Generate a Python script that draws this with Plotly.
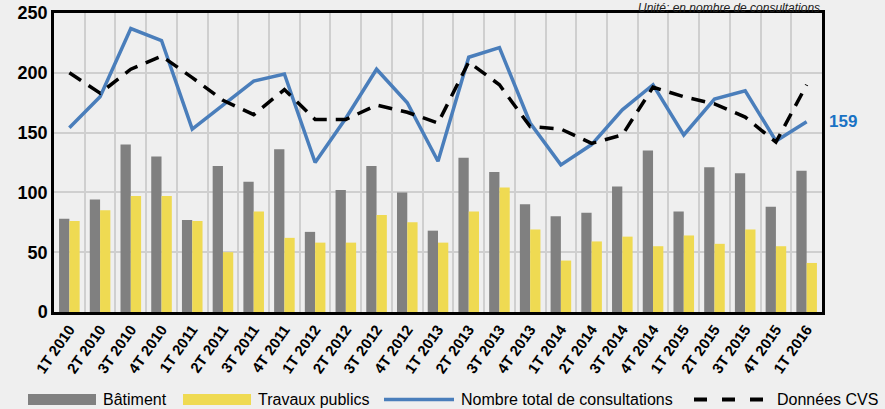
import plotly.graph_objects as go

categories = ["1T 2010", "2T 2010", "3T 2010", "4T 2010",
              "1T 2011", "2T 2011", "3T 2011", "4T 2011",
              "1T 2012", "2T 2012", "3T 2012", "4T 2012",
              "1T 2013", "2T 2013", "3T 2013", "4T 2013",
              "1T 2014", "2T 2014", "3T 2014", "4T 2014",
              "1T 2015", "2T 2015", "3T 2015", "4T 2015",
              "1T 2016"]

batiment = [78, 94, 140, 130, 77, 122, 109, 136,
            67, 102, 122, 100, 68, 129, 117, 90,
            80, 83, 105, 135, 84, 121, 116, 88, 118]

travaux_publics = [76, 85, 97, 97, 76, 50, 84, 62,
                   58, 58, 81, 75, 58, 84, 104, 69,
                   43, 59, 63, 55, 64, 57, 69, 55, 41]

total = [154, 180, 237, 227, 153, 173, 193, 199,
         125, 162, 203, 175, 126, 213, 221, 158,
         123, 140, 169, 190, 148, 178, 185, 143, 159]

cvs = [200, 183, 203, 214, 196, 177, 165, 186,
       161, 161, 173, 167, 158, 209, 190, 155,
       153, 141, 148, 188, 180, 174, 163, 142, 190]

y_ticks = [0, 50, 100, 150, 200, 250]
series_names = ["Bâtiment", "Travaux publics", "Nombre total de consultations", "Données CVS"]

FONT = "Liberation Sans"
BG = "#efefef"
GRAY = "#808080"
YELLOW = "#efda52"
BLUE = "#4a7ebb"

W, H = 885, 409
ML, MR, MT, MB = 54, 63, 13, 97
PW, PH = W - ML - MR, H - MT - MB


def px(X):
    return (X - ML) / PW


def py(Y):
    return (H - MB - Y) / PH


fig = go.Figure()
fig.add_trace(go.Bar(x=categories, y=batiment, name=series_names[0],
                     marker=dict(color=GRAY, line=dict(width=0))))
fig.add_trace(go.Bar(x=categories, y=travaux_publics, name=series_names[1],
                     marker=dict(color=YELLOW, line=dict(width=0))))
fig.add_trace(go.Scatter(x=categories, y=total, mode="lines",
                         name=series_names[2],
                         line=dict(color=BLUE, width=3.5)))
fig.add_trace(go.Scatter(x=categories, y=cvs, mode="lines",
                         name=series_names[3],
                         line=dict(color="#000000", width=3.5, dash="14px,9px")))

# value label for last point
fig.add_annotation(x=categories[-1], y=total[-1], text="<b>" + str(total[-1]) + "</b>",
                   showarrow=False, xanchor="left", xshift=20,
                   font=dict(family=FONT, size=17, color="#1a72c4"))
# unit note
fig.add_annotation(x=px(821), y=py(0), xref="paper", yref="paper",
                   text="<i>Unité: en nombre de consultations</i>",
                   showarrow=False, xanchor="right", yanchor="top",
                   borderpad=0,
                   font=dict(family=FONT, size=12, color="#222222"))

# manual legend
LY = 399.5
fig.add_shape(type="rect", xref="paper", yref="paper",
              x0=px(28), x1=px(96), y0=py(405), y1=py(394),
              fillcolor=GRAY, line=dict(width=0))
fig.add_shape(type="rect", xref="paper", yref="paper",
              x0=px(183), x1=px(251), y0=py(405), y1=py(394),
              fillcolor=YELLOW, line=dict(width=0))
fig.add_shape(type="line", xref="paper", yref="paper",
              x0=px(384), x1=px(454), y0=py(LY), y1=py(LY),
              line=dict(color=BLUE, width=3.5))
fig.add_shape(type="line", xref="paper", yref="paper",
              x0=px(694), x1=px(763), y0=py(LY), y1=py(LY),
              line=dict(color="#000000", width=4, dash="13px,15px"))
for name, X in zip(series_names, [102, 257, 460, 776]):
    fig.add_annotation(x=px(X), y=py(LY), xref="paper", yref="paper",
                       text=name, showarrow=False, xanchor="left", yanchor="middle",
                       borderpad=0,
                       font=dict(family=FONT, size=16, color="#000000"))

fig.update_layout(
    width=W, height=H,
    margin=dict(l=ML, r=MR, t=MT, b=MB, autoexpand=False),
    paper_bgcolor=BG, plot_bgcolor=BG,
    barmode="group", bargap=0.33, bargroupgap=0,
    font=dict(family=FONT, color="#000000"),
    showlegend=False,
    xaxis=dict(type="category", tickson="boundaries", showgrid=True,
               gridcolor="#cfcfcf", gridwidth=1.5, tickangle=-55,
               tickfont=dict(family=FONT, size=15, weight="bold"),
               showline=True, linecolor="#000000", linewidth=2.5, mirror=True,
               ticks="", range=[-0.5, len(categories) - 0.5]),
    yaxis=dict(range=[0, 250], tickvals=y_ticks, showgrid=True,
               gridcolor="#cfcfcf", gridwidth=1.5,
               tickfont=dict(family=FONT, size=18, weight="bold"),
               showline=True, linecolor="#000000", linewidth=2.5, mirror=True,
               ticks="", zeroline=False),
)

fig.write_html("out.html",
               config={"displayModeBar": False},
               post_script="document.body.style.margin='0';document.body.style.padding='0';"
                           "document.body.style.background='" + BG + "';")
